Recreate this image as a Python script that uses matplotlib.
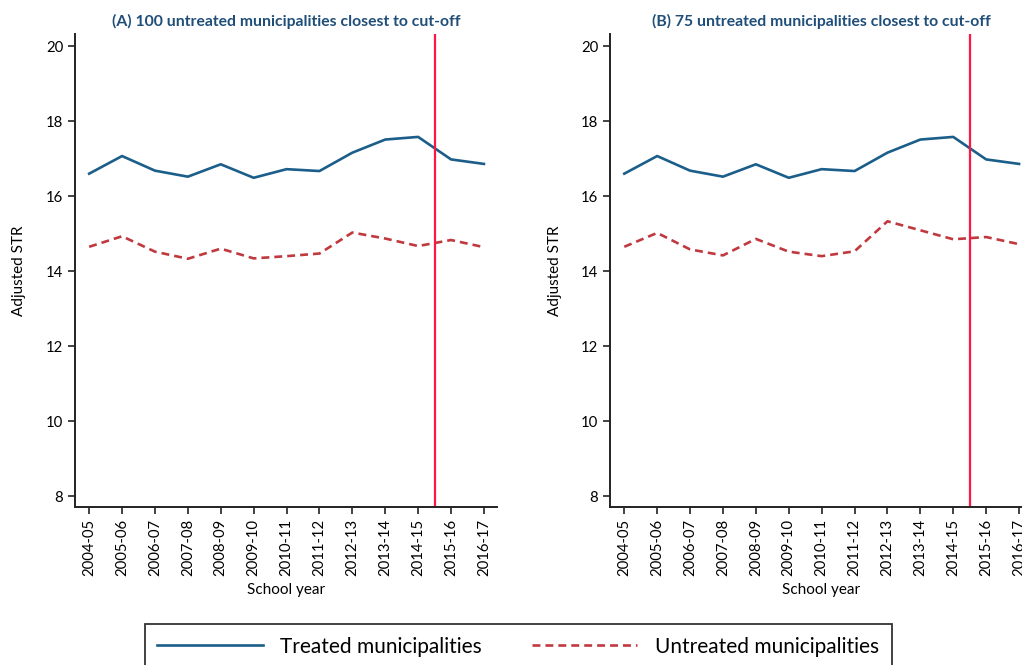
import numpy as np
import matplotlib
matplotlib.use("Agg")
import matplotlib.pyplot as plt

plt.rcParams["font.family"] = ["Lato", "DejaVu Sans"]

years = ["2004-05", "2005-06", "2006-07", "2007-08", "2008-09", "2009-10",
         "2010-11", "2011-12", "2012-13", "2013-14", "2014-15", "2015-16", "2016-17"]

# treated group is the same in both panels
treated = [16.60, 17.07, 16.68, 16.52, 16.85, 16.49, 16.72, 16.67, 17.16, 17.51, 17.58, 16.98, 16.86]
untreated_100 = [14.65, 14.93, 14.52, 14.33, 14.60, 14.34, 14.40, 14.47, 15.03, 14.87, 14.67, 14.83, 14.64]
untreated_75 = [14.65, 15.02, 14.58, 14.42, 14.86, 14.52, 14.40, 14.53, 15.33, 15.09, 14.85, 14.91, 14.72]

titles = ["(A) 100 untreated municipalities closest to cut-off",
          "(B) 75 untreated municipalities closest to cut-off"]
cutoff = 10.5

blue = "#1b5e8a"
red = "#c0393f"
vline = "#ff1744"
title_col = "#1f4e79"

fig = plt.figure(figsize=(10.22, 6.65), dpi=100)
ax_a = fig.add_axes([0.0734, 0.2376, 0.413, 0.711])
ax_b = fig.add_axes([0.597, 0.2376, 0.413, 0.711])

x = np.arange(len(years))
for ax, title, untr in zip([ax_a, ax_b], titles, [untreated_100, untreated_75]):
    l1, = ax.plot(x, treated, color=blue, lw=1.9, label="Treated municipalities")
    l2, = ax.plot(x, untr, color=red, lw=1.9, dashes=(3, 1.9),
                  label="Untreated municipalities")
    ax.axvline(cutoff, color=vline, lw=1.6)
    ax.set_xlim(-0.43, 12.4)
    ax.set_ylim(7.71, 20.32)
    ax.set_yticks([8, 10, 12, 14, 16, 18, 20])
    ax.set_xticks(x)
    ax.set_xticklabels(years, rotation=90)
    ax.tick_params(labelsize=10.7, length=5, width=1.2, color="#222222")
    for s in ["top", "right"]:
        ax.spines[s].set_visible(False)
    for s in ["left", "bottom"]:
        ax.spines[s].set_linewidth(1.4)
        ax.spines[s].set_color("#222222")
    ax.set_title(title, fontsize=11.3, fontweight="bold", color=title_col, pad=6)
    ax.set_ylabel("Adjusted STR", fontsize=11, labelpad=14)
    ax.set_xlabel("School year", fontsize=11, labelpad=5)

# shared legend under both panels, box runs off the bottom edge
leg = fig.legend([l1, l2], ["Treated municipalities", "Untreated municipalities"],
                 loc="upper center", bbox_to_anchor=(0.507, 0.0615), ncol=2,
                 fontsize=15, frameon=True, fancybox=False, edgecolor="black",
                 handlelength=5.05, handletextpad=0.85, columnspacing=2.4,
                 borderpad=0.6, borderaxespad=0)
leg.get_frame().set_linewidth(1.3)

fig.savefig("out.png", dpi=100)
